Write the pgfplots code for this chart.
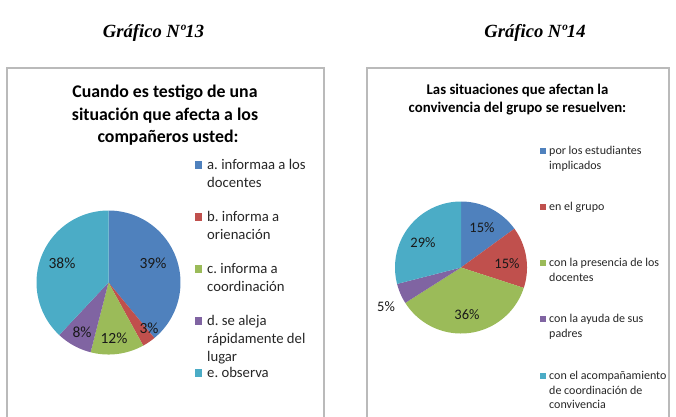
\documentclass[border=0pt]{standalone}
\usepackage{pgfplots}
\pgfplotsset{compat=1.18}
\usepackage{fontspec}
\setmainfont{Carlito}
\newfontfamily\headfont{Liberation Serif}
\frenchspacing

\definecolor{pieblue}{HTML}{4F81BD}
\definecolor{piered}{HTML}{C0504D}
\definecolor{piegreen}{HTML}{9BBB59}
\definecolor{piepurple}{HTML}{8064A2}
\definecolor{piecyan}{HTML}{4BACC6}
\definecolor{framegray}{HTML}{BABABA}
\definecolor{legtext}{HTML}{262626}

% one pie slice: centre x, centre y, radius, start %, end %, colour
% (clockwise from twelve o'clock, y axis points down)
\newcommand{\pieslice}[6]{%
  \addplot[draw=none, fill=#6, domain=#4:#5, samples=60, variable=\t]
    ({#1+#3*sin(3.6*\t)}, {#2-#3*cos(3.6*\t)}) -- (#1,#2) -- cycle;
}

\begin{document}
\begin{tikzpicture}
\useasboundingbox (0,0) rectangle (676pt,416pt);
\begin{axis}[
  at={(0,0)}, anchor=south west,
  x=1pt, y=1pt, y dir=reverse,
  xmin=0, xmax=676, ymin=0, ymax=416,
  hide axis, clip=false,
]

% ---------- headings ----------
\node[anchor=base, font=\headfont\bfseries\itshape\fontsize{18.6}{22}\selectfont]
  at (153.5,37.3) {Gráfico Nº13};
\node[anchor=base, font=\headfont\bfseries\itshape\fontsize{18.6}{22}\selectfont]
  at (535,37.3) {Gráfico Nº14};

% ---------- chart frames ----------
\draw[framegray, line width=1.4pt] (7,430) -- (7,68) -- (324,68) -- (324,430);
\draw[framegray, line width=1.4pt] (367,430) -- (367,68) -- (669,68) -- (669,430);

% ---------- Gráfico 13 ----------
\begin{scope}[font=\bfseries\fontsize{17.8}{22}\selectfont]
\node[anchor=base] at (165,97.5) {Cuando es testigo de una};
\node[anchor=base] at (165,120) {situación que afecta a los};
\node[anchor=base] at (168,142.5) {compañeros usted:};
\end{scope}

% values: 39, 3, 12, 8, 38 (cumulative bounds below)
\pieslice{108.5}{282.5}{72}{0}{39}{pieblue}
\pieslice{108.5}{282.5}{72}{39}{42}{piered}
\pieslice{108.5}{282.5}{72}{42}{54}{piegreen}
\pieslice{108.5}{282.5}{72}{54}{62}{piepurple}
\pieslice{108.5}{282.5}{72}{62}{100}{piecyan}

\begin{scope}[font=\fontsize{15.5}{18}\selectfont, text=black!90]
\node at (153,263) {39\%};
\node at (149,328) {3\%};
\node at (114,338) {12\%};
\node at (82,332) {8\%};
\node at (62,263) {38\%};
\end{scope}

\begin{scope}[font=\fontsize{14.7}{18}\selectfont, text=legtext]
\fill[pieblue]   (194.5,161) rectangle (202,168.5);
\fill[piered]    (194.5,213) rectangle (202,220.5);
\fill[piegreen]  (194.5,265) rectangle (202,272.5);
\fill[piepurple] (194.5,317) rectangle (202,324.5);
\fill[piecyan]   (194.5,369) rectangle (202,376.5);
\node[anchor=base west, inner sep=0] at (207,169.8) {a. informaa a los};
\node[anchor=base west, inner sep=0] at (207,187.8) {docentes};
\node[anchor=base west, inner sep=0] at (207,221.8) {b. informa a};
\node[anchor=base west, inner sep=0] at (207,239.8) {orienación};
\node[anchor=base west, inner sep=0] at (207,273.8) {c. informa a};
\node[anchor=base west, inner sep=0] at (207,291.8) {coordinación};
\node[anchor=base west, inner sep=0] at (207,325.8) {d. se aleja};
\node[anchor=base west, inner sep=0] at (207,343.8) {rápidamente del};
\node[anchor=base west, inner sep=0] at (207,361.8) {lugar};
\node[anchor=base west, inner sep=0] at (207,377.8) {e. observa};
\end{scope}

% ---------- Gráfico 14 ----------
\begin{scope}[font=\bfseries\fontsize{14.8}{18}\selectfont]
\node[anchor=base] at (517.5,94.4) {Las situaciones que afectan la};
\node[anchor=base] at (517.5,112.4) {convivencia del grupo se resuelven:};
\end{scope}

% values: 15, 15, 36, 5, 29
\pieslice{461}{267.5}{66}{0}{15}{pieblue}
\pieslice{461}{267.5}{66}{15}{30}{piered}
\pieslice{461}{267.5}{66}{30}{66}{piegreen}
\pieslice{461}{267.5}{66}{66}{71}{piepurple}
\pieslice{461}{267.5}{66}{71}{100}{piecyan}

\begin{scope}[font=\fontsize{14.5}{17}\selectfont, text=black!90]
\node at (482,228) {15\%};
\node at (507,264) {15\%};
\node at (467,315) {36\%};
\node at (386,307) {5\%};
\node at (423,243) {29\%};
\end{scope}

\begin{scope}[font=\fontsize{12}{14.6}\selectfont, text=legtext]
\fill[pieblue]   (540,148) rectangle (545.5,153.5);
\fill[piered]    (540,204) rectangle (545.5,209.5);
\fill[piegreen]  (540,260) rectangle (545.5,265.5);
\fill[piepurple] (540,316) rectangle (545.5,321.5);
\fill[piecyan]   (540,373) rectangle (545.5,378.5);
\node[anchor=base west, inner sep=0] at (549,154.6) {por los estudiantes};
\node[anchor=base west, inner sep=0] at (549,169.2) {implicados};
\node[anchor=base west, inner sep=0] at (549,210.6) {en el grupo};
\node[anchor=base west, inner sep=0] at (549,266.6) {con la presencia de los};
\node[anchor=base west, inner sep=0] at (549,281.2) {docentes};
\node[anchor=base west, inner sep=0] at (549,322.6) {con la ayuda de sus};
\node[anchor=base west, inner sep=0] at (549,337.2) {padres};
\node[anchor=base west, inner sep=0] at (549,379.6) {con el acompañamiento};
\node[anchor=base west, inner sep=0] at (549,394.2) {de coordinación de};
\node[anchor=base west, inner sep=0] at (549,408.8) {convivencia};
\end{scope}

\end{axis}
\end{tikzpicture}
\end{document}
